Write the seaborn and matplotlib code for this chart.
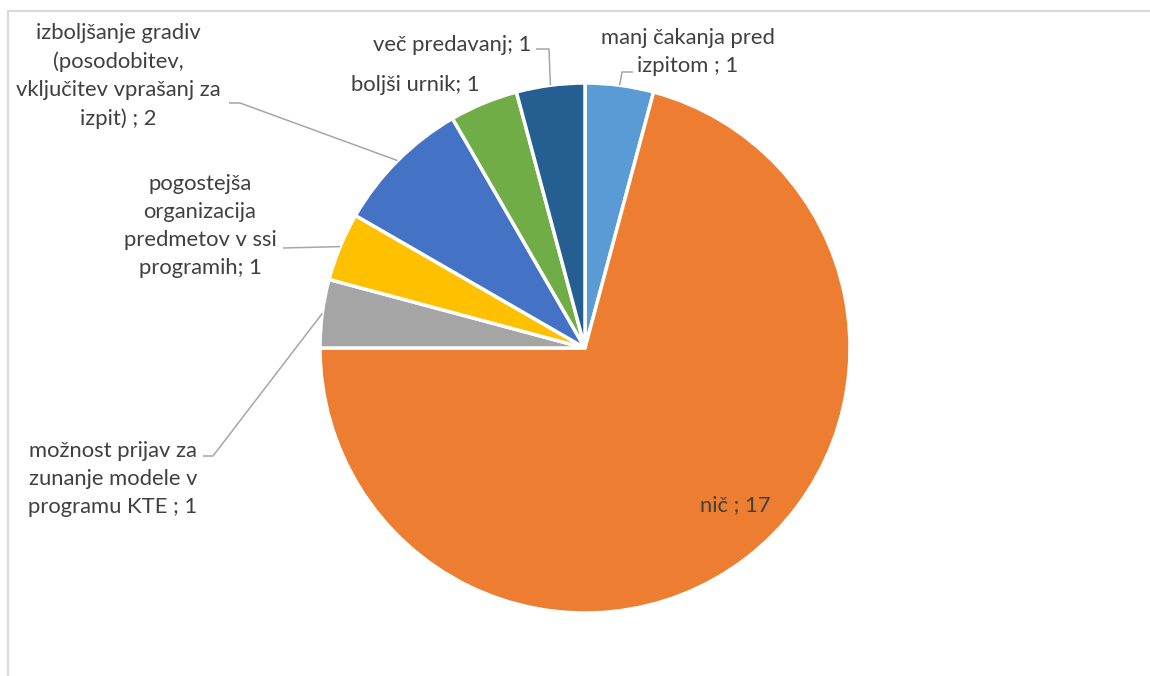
import numpy as np
import matplotlib
matplotlib.use("Agg")
import matplotlib.pyplot as plt
import matplotlib.patches as mpatches
import seaborn as sns

sns.set_theme(style="white")
plt.rcParams['font.family'] = ['Lato', 'DejaVu Sans']

# data (clockwise from the top)
categories = [
    "manj čakanja pred\nizpitom ",
    "nič ",
    "možnost prijav za\nzunanje modele v\nprogramu KTE ",
    "pogostejša\norganizacija\npredmetov v ssi\nprogramih",
    "izboljšanje gradiv\n(posodobitev,\nvključitev vprašanj za\nizpit) ",
    "boljši urnik",
    "več predavanj",
]
values = [1, 17, 1, 1, 2, 1, 1]
colors = ["#5B9BD5", "#ED7D31", "#A5A5A5", "#FFC000", "#4472C4", "#70AD47", "#255E91"]

# label layout in pixels (y measured from the top of the image)
label_pos = [(688, 52), (735, 505), (113, 479), (200, 226), (118, 76), (415, 85), (531, 45)]
label_ha = ["center", "center", "center", "center", "center", "center", "right"]
leader_pts = [
    [(622, 72), (633, 72)],
    None,
    [(213, 456), (203, 456)],
    [(283, 248)],
    [(240, 103), (229, 103)],
    None,
    [(549, 49), (536, 49)],
]

W, H = 1150, 676
text_color = "#404040"
line_color = "#A6A6A6"

fig = plt.figure(figsize=(W / 100, H / 100), dpi=100)
ax = fig.add_axes([0, 0, 1, 1])

cx, cy, r = 585, H - 348, 265
wedges, _ = ax.pie(values, colors=colors, startangle=90, counterclock=False,
                   center=(cx, cy), radius=r,
                   wedgeprops=dict(edgecolor="white", linewidth=2.5))
ax.set_xlim(0, W)
ax.set_ylim(0, H)
ax.set_aspect("equal")
ax.axis("off")

for w, cat, val, (lx, ly), ha, pts in zip(wedges, categories, values, label_pos, label_ha, leader_pts):
    ax.text(lx, H - ly, f"{cat}; {val}", ha=ha, va="center", multialignment="center",
            fontsize=15.8, color=text_color, linespacing=1.5)
    if pts is not None:
        mid = np.deg2rad((w.theta1 + w.theta2) / 2)
        xs = [cx + r * np.cos(mid)] + [p[0] for p in pts]
        ys = [cy + r * np.sin(mid)] + [H - p[1] for p in pts]
        ax.plot(xs, ys, color=line_color, lw=1.1, solid_capstyle="butt")

# chart area border (only left and top edges are visible)
ax.add_patch(mpatches.Rectangle((8, -10), W + 20, H - 11 + 10, fill=False,
                                edgecolor="#D9D9D9", lw=1.5, clip_on=False))

fig.savefig("out.png", dpi=100)
